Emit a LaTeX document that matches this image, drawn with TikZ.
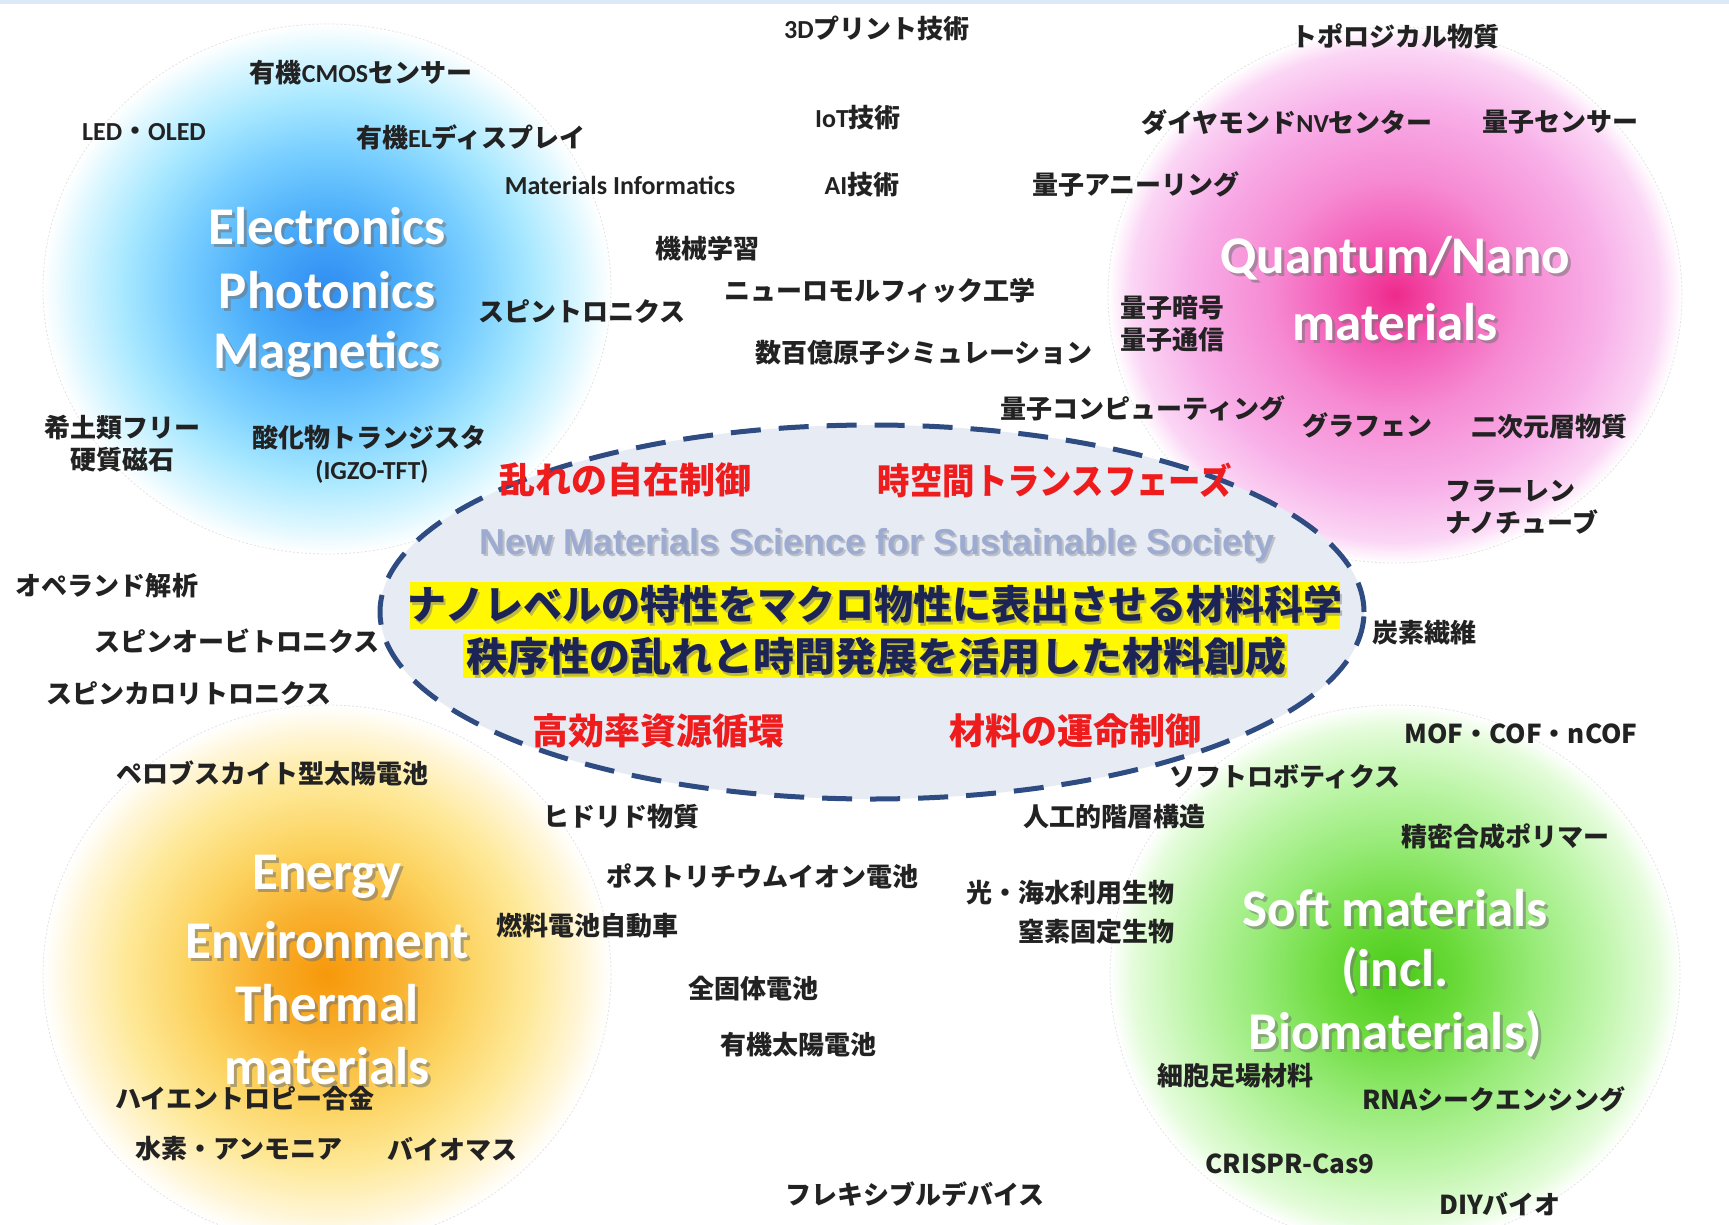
\documentclass[tikz,border=0pt]{standalone}
\usepackage{fontspec}
\setmainfont{Carlito}
\newfontfamily\jp{Noto Sans CJK JP}
\newfontfamily\lat{Carlito}
\newfontfamily\arl{Liberation Sans}
% colours
\definecolor{bl0}{HTML}{2F8DF2}\definecolor{bl1}{HTML}{4CAEFA}\definecolor{bl2}{HTML}{78CEFF}
\definecolor{bl3}{HTML}{A8E8FF}\definecolor{bl4}{HTML}{DDF7FF}
\definecolor{pk0}{HTML}{EE2A8C}\definecolor{pk1}{HTML}{F35AB4}\definecolor{pk2}{HTML}{F68BD3}
\definecolor{pk3}{HTML}{F8AFE8}\definecolor{pk4}{HTML}{FBD6F5}
\definecolor{or0}{HTML}{F7980A}\definecolor{or1}{HTML}{F9B02E}\definecolor{or2}{HTML}{FCD25E}
\definecolor{or3}{HTML}{FEE99A}\definecolor{or4}{HTML}{FFF6D8}
\definecolor{gr0}{HTML}{4ACB18}\definecolor{gr1}{HTML}{6CDB3C}\definecolor{gr2}{HTML}{95EA75}
\definecolor{gr3}{HTML}{BDF5A8}\definecolor{gr4}{HTML}{E4FCDA}
\definecolor{ellfill}{HTML}{E7EBF4}
\definecolor{elldash}{HTML}{2E4C82}
\definecolor{redtxt}{HTML}{EE1C1C}
\definecolor{navy}{HTML}{1C2455}
\definecolor{nmss}{HTML}{9EABD0}
\definecolor{hl}{HTML}{FFF800}
\definecolor{lblk}{HTML}{222222}
\definecolor{topband}{HTML}{DCE9F7}
\pgfdeclareradialshading{blueball}{\pgfpoint{0bp}{0bp}}{color(0bp)=(bl0); color(7bp)=(bl1); color(13bp)=(bl2); color(18bp)=(bl3); color(22.5bp)=(bl4); color(25bp)=(white); color(50bp)=(white)}
\pgfdeclareradialshading{pinkball}{\pgfpoint{0bp}{0bp}}{color(0bp)=(pk0); color(5bp)=(pk1); color(11bp)=(pk2); color(18bp)=(pk3); color(23bp)=(pk4); color(25bp)=(white); color(50bp)=(white)}
\pgfdeclareradialshading{orangeball}{\pgfpoint{0bp}{0bp}}{color(0bp)=(or0); color(6bp)=(or1); color(12bp)=(or2); color(18bp)=(or3); color(22.5bp)=(or4); color(25bp)=(white); color(50bp)=(white)}
\pgfdeclareradialshading{greenball}{\pgfpoint{0bp}{0bp}}{color(0bp)=(gr0); color(6bp)=(gr1); color(12bp)=(gr2); color(18bp)=(gr3); color(23bp)=(gr4); color(25bp)=(white); color(50bp)=(white)}
\tikzset{
  lbl/.style={font=\jp\bfseries\fontsize{26}{32}\selectfont, text=lblk, inner sep=0pt},
  ttl/.style={font=\lat\bfseries\fontsize{53}{60}\selectfont, text=white, inner sep=0pt},
  ttlsh/.style={font=\lat\bfseries\fontsize{53}{60}\selectfont, text=black!55, opacity=0.55, inner sep=0pt, xshift=3pt, yshift=-3pt},
  redl/.style={font=\jp\bfseries\fontsize{36}{40}\selectfont, text=redtxt, inner sep=0pt},
  yl/.style={font=\jp\bfseries\fontsize{40}{44}\selectfont, text=navy, inner sep=0pt},
  ylsh/.style={font=\jp\bfseries\fontsize{40}{44}\selectfont, text=black!50, opacity=0.5, inner sep=0pt, xshift=2pt, yshift=-3pt},
  hlbox/.style={fill=hl, draw=none, inner sep=0pt},
  faint/.style={draw=gray!22, line width=0.8pt, dash pattern=on 2pt off 2pt},
}
\newcommand{\lineA}{\scalebox{0.975}[1]{ナノレベルの特性をマクロ物性に表出させる材料科学}}
\newcommand{\lineB}{\scalebox{1.025}[1]{秩序性の乱れと時間発展を活用した材料創成}}
\begin{document}
\begin{tikzpicture}[x=1pt,y=-1pt]
\useasboundingbox (0,0) rectangle (1729,1225);
\clip (0,0) rectangle (1729,1225);
\fill[white] (0,0) rectangle (1729,1225);
\fill[topband] (0,0) rectangle (1729,4);

% coloured spheres
\path[shading=blueball]   (327,289) ellipse [x radius=284pt, y radius=265pt];
\path[shading=pinkball]   (1395,295) ellipse [x radius=287pt, y radius=268pt];
\path[shading=orangeball] (327,975) ellipse [x radius=284pt, y radius=270pt];
\path[shading=greenball]  (1395,975) ellipse [x radius=285pt, y radius=270pt];
\path[faint] (327,289) ellipse [x radius=284pt, y radius=265pt];
\path[faint] (1395,295) ellipse [x radius=287pt, y radius=268pt];
\path[faint] (327,975) ellipse [x radius=284pt, y radius=270pt];
\path[faint] (1395,975) ellipse [x radius=285pt, y radius=270pt];

% central ellipse
\path[fill=ellfill, draw=elldash, line width=5pt, dash pattern=on 30pt off 18pt] (872,612) ellipse [x radius=492pt, y radius=187pt];

% category titles
\node[ttlsh] at (327,226) {Electronics};  \node[ttl] (tE1) at (327,226) {Electronics};
\node[ttlsh] at (327,290) {Photonics};    \node[ttl] (tE2) at (327,290) {Photonics};
\node[ttlsh] at (327,354) {Magnetics};    \node[ttl] (tE3) at (327,354) {Magnetics};
\node[ttlsh] at (1395,258) {Quantum/Nano}; \node[ttl] (tQ1) at (1395,258) {Quantum/Nano};
\node[ttlsh] at (1395,322) {materials};    \node[ttl] (tQ2) at (1395,322) {materials};
\node[ttlsh] at (327,877) {Energy};        \node[ttl] (tN1) at (327,877) {Energy};
\node[ttlsh] at (327,940) {Environment};   \node[ttl] (tN2) at (327,940) {Environment};
\node[ttlsh] at (327,1003) {Thermal};      \node[ttl] (tN3) at (327,1003) {Thermal};
\node[ttlsh] at (327,1066) {materials};    \node[ttl] (tN4) at (327,1066) {materials};
\node[ttlsh] at (1395,908) {Soft materials}; \node[ttl] (tS1) at (1395,908) {Soft materials};
\node[ttlsh] at (1395,971) {(incl.};         \node[ttl] (tS2) at (1395,971) {(incl.};
\node[ttlsh] at (1395,1034) {Biomaterials)}; \node[ttl] (tS3) at (1395,1034) {Biomaterials)};

% texts in the central ellipse
\node[redl] (r1) at (625,480) {乱れの自在制御};
\node[redl] (r2) at (1055,480) {\scalebox{0.9}[1]{時空間トランスフェーズ}};
\node[redl] (r3) at (658,731) {高効率資源循環};
\node[redl] (r4) at (1075,731) {材料の運命制御};
\node[font=\arl\bfseries\fontsize{36}{40}\selectfont, text=black!45, opacity=0.45, inner sep=0pt, xshift=2pt, yshift=-2pt] at (877,545) {New Materials Science for Sustainable Society};
\node[font=\arl\bfseries\fontsize{36}{40}\selectfont, text=nmss, inner sep=0pt] (nmss) at (877,545) {New Materials Science for Sustainable Society};
\node[hlbox, minimum width=930pt, minimum height=47pt] (hb1) at (875,605.5) {};
\node[hlbox, minimum width=825pt, minimum height=44pt] (hb2) at (875.5,656) {};
\node[ylsh] at (875,604) {\lineA};
\node[yl] (y1) at (875,604) {\lineA};
\node[ylsh] at (876,656) {\lineB};
\node[yl] (y2) at (876,656) {\lineB};

% keyword labels
\node[lbl] (k1) at (877,28) {{\lat\bfseries 3D}プリント技術};
\node[lbl] (k2) at (1395,36) {トポロジカル物質};
\node[lbl] (k3) at (361,73) {有機{\lat\bfseries CMOS}センサー};
\node[lbl] (k4) at (144,132) {{\lat\bfseries LED}・{\lat\bfseries OLED}};
\node[lbl] (k5) at (471,137) {有機{\lat\bfseries EL}ディスプレイ};
\node[lbl] (k6) at (858,118) {{\lat\bfseries IoT}技術};
\node[lbl] (k7) at (1287,122) {ダイヤモンド{\lat\bfseries NV}センター};
\node[lbl] (k8) at (1560,122) {量子センサー};
\node[lbl] (k9) at (620,185) {{\lat\bfseries Materials Informatics}};
\node[lbl] (k10) at (862,185) {{\lat\bfseries AI}技術};
\node[lbl] (k11) at (1136,184) {量子アニーリング};
\node[lbl] (k12) at (707,249) {機械学習};
\node[lbl] (k13) at (880,291) {ニューロモルフィック工学};
\node[lbl] (k14) at (582,312) {スピントロニクス};
\node[lbl] (k15) at (924,353) {数百億原子シミュレーション};
\node[lbl, align=center] (k16) at (1172,324) {量子暗号\\量子通信};
\node[lbl] (k17) at (1143,408) {量子コンピューティング};
\node[lbl] (k18) at (1367,425) {グラフェン};
\node[lbl] (k19) at (1549,427) {二次元層物質};
\node[lbl, align=center] (k20) at (122,444) {希土類フリー\\硬質磁石};
\node[lbl] (k21) at (369,438) {酸化物トランジスタ};
\node[lbl] (k21b) at (372,472) {{\lat\bfseries (IGZO-TFT)}};
\node[lbl, align=left, anchor=west] (k22) at (1445,507) {フラーレン\\ナノチューブ};
\node[lbl] (k23) at (107,586) {オペランド解析};
\node[lbl] (k24) at (237,641) {スピンオービトロニクス};
\node[lbl] (k25) at (189,694) {スピンカロリトロニクス};
\node[lbl] (k26) at (1424,633) {炭素繊維};
\node[lbl] (k27) at (1521,734) {MOF・COF・nCOF};
\node[lbl] (k28) at (272,773) {ペロブスカイト型太陽電池};
\node[lbl] (k29) at (1285,777) {ソフトロボティクス};
\node[lbl] (k30) at (621,817) {ヒドリド物質};
\node[lbl] (k31) at (1114,817) {人工的階層構造};
\node[lbl] (k32) at (1505,837) {精密合成ポリマー};
\node[lbl] (k33) at (762,876) {ポストリチウムイオン電池};
\node[lbl, anchor=east] (k34) at (1175,893) {光・海水利用生物};
\node[lbl, anchor=east] (k34b) at (1175,932) {窒素固定生物};
\node[lbl] (k35) at (587,926) {燃料電池自動車};
\node[lbl] (k36) at (753,989) {全固体電池};
\node[lbl] (k37) at (798,1045) {有機太陽電池};
\node[lbl] (k38) at (1235,1076) {細胞足場材料};
\node[lbl] (k39) at (245,1099) {ハイエントロピー合金};
\node[lbl] (k40) at (1494,1099) {RNAシークエンシング};
\node[lbl] (k41) at (239,1149) {水素・アンモニア};
\node[lbl] (k42) at (452,1149) {バイオマス};
\node[lbl] (k43) at (1290,1164) {CRISPR-Cas9};
\node[lbl] (k44) at (915,1194) {フレキシブルデバイス};
\node[lbl] (k45) at (1500,1204) {DIYバイオ};
\end{tikzpicture}
\end{document}
